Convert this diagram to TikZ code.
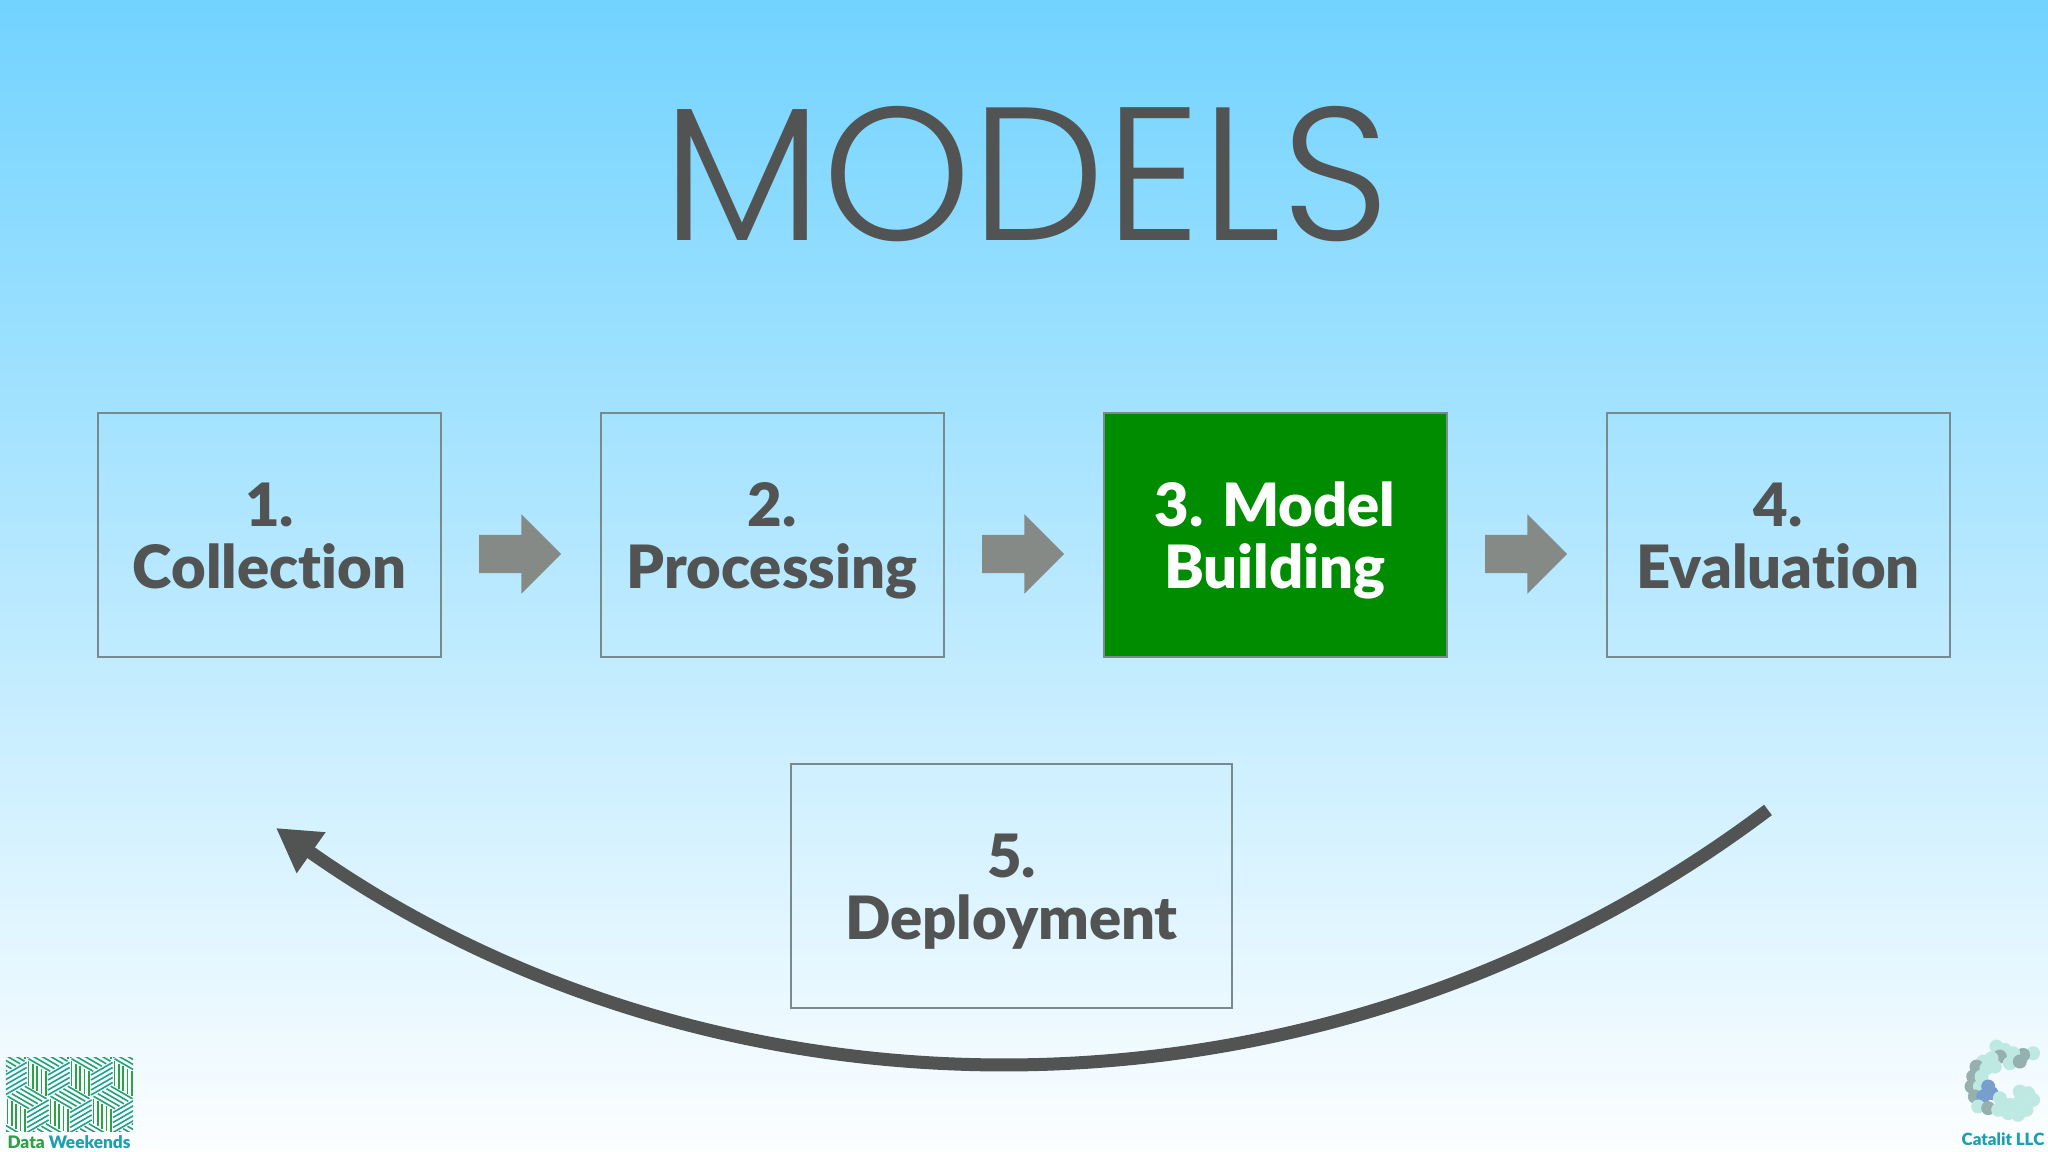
\documentclass[tikz,border=0pt]{standalone}
\usepackage{fontspec}
\usepackage{tikz}
\usetikzlibrary{arrows.meta,shapes.arrows,calc}
\setmainfont{Lato}
\newfontfamily\titlefont{Poppins Light}
\newfontfamily\heavyfont[Ligatures=NoCommon]{Lato Black}
\definecolor{skytop}{RGB}{114,211,255}
\definecolor{skymid}{RGB}{176,229,255}
\definecolor{skylow}{RGB}{252,254,255}
\definecolor{darktext}{RGB}{82,84,84}
\definecolor{boxline}{RGB}{120,138,140}
\definecolor{blockgray}{RGB}{133,138,135}
\definecolor{stagegreen}{RGB}{0,140,0}
\definecolor{logogreen}{RGB}{47,160,70}
\definecolor{logoteal}{RGB}{30,158,175}
\definecolor{blobpale}{RGB}{190,232,226}
\definecolor{blobgray}{RGB}{150,175,175}
\definecolor{blobblue}{RGB}{120,158,205}
\tikzset{
    stagebox/.style={draw=boxline, line width=0.02cm, minimum width=3.43cm, minimum height=2.44cm, align=center, text=darktext, inner sep=0, font=\heavyfont\fontsize{17}{17.6}\selectfont, execute at begin node={\rule{0pt}{35.8pt}}, execute at end node=\strut},
    blockarrow/.style={single arrow, fill=blockgray, inner xsep=0, inner ysep=0.185cm, minimum height=0.82cm, single arrow head extend=0.205cm},
    logostripe/.style={line width=0.016cm},
}
\newcommand{\cubeside}[4]{
    \foreach \t in {0.1,0.3,0.5,0.7,0.9}
        \draw[#4] ($(#1)+\t*(#2)$) -- ($(#1)+\t*(#2)+(#3)$);
}
\begin{document}
\begin{tikzpicture}

            \shade[top color=skytop, middle color=skymid, bottom color=skylow] (0,0) rectangle (20.48,11.52);
            \useasboundingbox (0,0) rectangle (20.48,11.52);

            \node[text=darktext, font=\titlefont\fontsize{54}{54}\selectfont] (title) at (10.26,9.78) {MODELS};

            \node[stagebox] (collection) at (2.695,6.17) {1.\\Collection};
            \node[stagebox] (processing) at (7.72,6.17) {2.\\Processing};
            \node[stagebox, fill=stagegreen, text=white] (building) at (12.75,6.17) {3. Model\\Building};
            \node[stagebox] (evaluation) at (17.78,6.17) {4.\\Evaluation};
            \node[stagebox, minimum width=4.41cm] (deployment) at (10.115,2.66) {5.\\Deployment};

            \node[blockarrow] (arrowa) at (5.105,5.98) {};
            \node[blockarrow] (arrowb) at (10.135,5.98) {};
            \node[blockarrow] (arrowc) at (15.165,5.98) {};

            \coordinate (loopstart) at (17.68,3.42);
            \coordinate (looptip) at (2.76,3.24);
            \draw[color=darktext, line width=0.13cm, -{Triangle[length=0.43cm, width=0.47cm]}] (loopstart) .. controls (13.14,0.0) and (7.10,0.18) .. (looptip);

            % left logo
            \begin{scope}
                \clip (0.06,0.20) rectangle (1.33,0.94);
                \foreach \cx/\cy in {0.27/1.17, 0.70/1.17, 1.13/1.17, 0.05/0.795, 0.48/0.795, 0.91/0.795, 1.34/0.795, 0.27/0.42, 0.70/0.42, 1.13/0.42, 0.05/0.045, 0.48/0.045, 0.91/0.045, 1.34/0.045}{
                    \begin{scope}[shift={(\cx,\cy)}]
                        \cubeside{-0.2165,0.125}{0.2165,-0.125}{0,-0.25}{logogreen, logostripe}
                        \cubeside{0,-0.25}{0,0.25}{0.2165,0.125}{logoteal!70!logogreen, logostripe}
                        \cubeside{-0.2165,0.125}{0.2165,0.125}{0.2165,-0.125}{logogreen!60!logoteal, logostripe}
                    \end{scope}
                }
            \end{scope}
            \node[inner sep=0, font=\heavyfont\fontsize{4.9}{5}\selectfont] (datalogo) at (0.69,0.10) {\textcolor{logogreen}{Data} \textcolor{logoteal}{Weekends}};

            % right logo
            \begin{scope}[shift={(19.20,1.22)}, x=0.00333cm, y=-0.00333cm]
                \foreach \bx/\by/\bc in {
                    340/70/blobpale, 310/75/blobgray, 280/70/blobpale, 255/60/blobpale, 230/50/blobpale, 240/80/blobgray, 270/100/blobpale, 300/95/blobgray,
                    215/85/blobpale, 190/95/blobpale, 170/110/blobgray, 200/115/blobpale, 225/110/blobpale, 160/140/blobgray, 185/140/blobpale,
                    155/170/blobgray, 180/170/blobpale, 205/170/blobblue, 165/200/blobgray, 190/200/blobblue, 215/190/blobblue,
                    175/230/blobpale, 205/235/blobgray, 235/240/blobpale, 265/250/blobpale, 295/255/blobpale, 320/240/blobpale, 340/210/blobpale,
                    325/190/blobpale, 300/215/blobpale, 270/225/blobpale, 300/185/blobpale, 240/205/blobpale}{
                    \fill[\bc] (\bx,\by) circle (0.07cm);
                }
            \end{scope}
            \node[inner sep=0, text=logoteal, font=\heavyfont\fontsize{4.8}{5}\selectfont] (catalitlogo) at (20.03,0.13) {Catalit LLC};

\end{tikzpicture}
\end{document}
